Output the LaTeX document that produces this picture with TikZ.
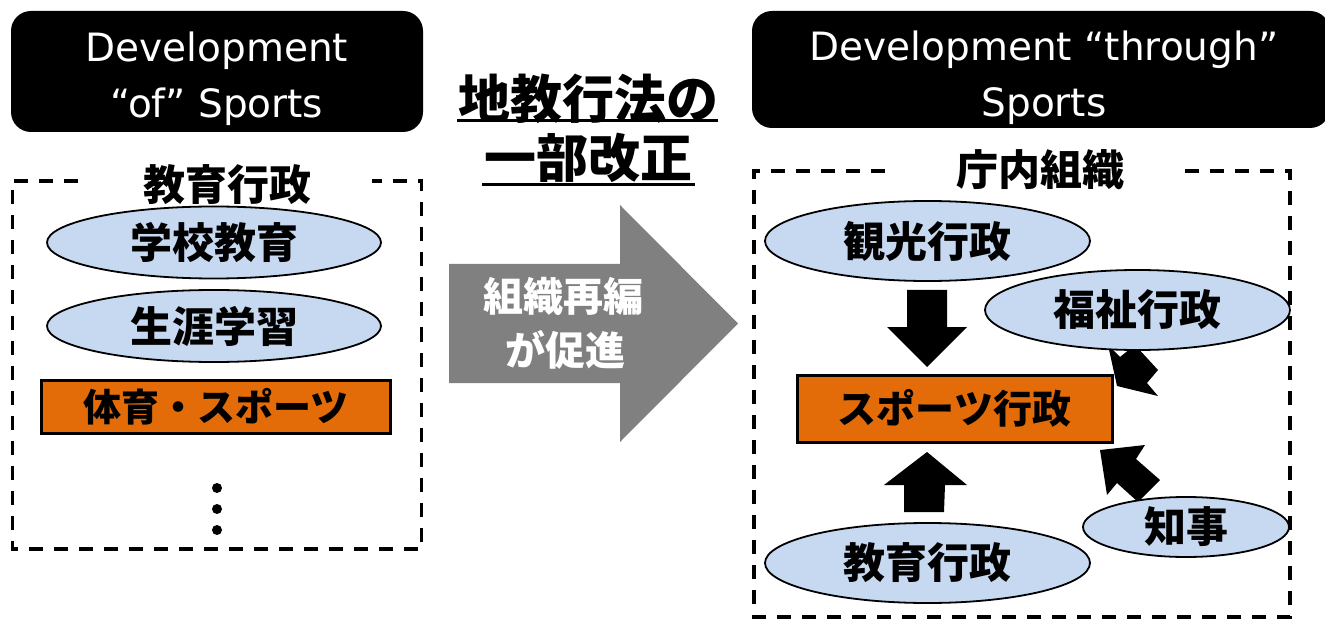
\documentclass[tikz,border=0pt]{standalone}
\usepackage{fontspec}
\setmainfont{DejaVu Sans}
\newfontfamily\jp{Noto Sans CJK JP}
\usetikzlibrary{shapes.geometric}
\definecolor{lblue}{HTML}{C6D9F1}
\definecolor{orng}{HTML}{E36C09}
\definecolor{gry}{HTML}{808080}
\begin{document}
\begin{tikzpicture}[x=1pt,y=-1pt,
  ell/.style={ellipse, draw=black, line width=1.8pt, fill=lblue, inner sep=0pt,
    font=\jp\bfseries\fontsize{42}{46}\selectfont},
  obox/.style={rectangle, draw=black, line width=3pt, fill=orng, inner sep=0pt,
    font=\jp\bfseries\fontsize{39}{44}\selectfont},
  hdr/.style={rectangle, fill=black, rounded corners=20pt, inner sep=0pt},
  htxt/.style={text=white, inner sep=0pt, font=\fontsize{39}{44}\selectfont},
  ttl/.style={inner sep=0pt, font=\jp\bfseries\fontsize{42}{46}\selectfont},
  mttl/.style={inner sep=0pt, font=\jp\bfseries\fontsize{52}{56}\selectfont},
  wtxt/.style={inner sep=0pt, text=white, font=\jp\bfseries\fontsize{40}{44}\selectfont},
  dbox/.style={line width=3.6pt, dash pattern=on 14pt off 11pt},
  blk/.style={fill=black},
]
\useasboundingbox (0,0) rectangle (1325,620);
\fill[white] (0,0) rectangle (1325,620);

% headers
\node[hdr, minimum width=412pt, minimum height=121pt] (hL) at (217,71.5) {};
\node[htxt, anchor=base] (hL1) at (217,62) {Development};
\node[htxt, anchor=base] (hL2) at (217,118) {“of” Sports};
\node[hdr, minimum width=578pt, minimum height=117pt] (hR) at (1041,69.5) {};
\node[htxt, anchor=base] (hR1) at (1044,61) {Development “through”};
\node[htxt, anchor=base] (hR2) at (1044,117) {Sports};

% left dashed box
\draw[dbox] (78,181) -- (12.5,181) -- (12.5,549) -- (421.5,549) -- (421.5,181) -- (372,181);
\node[ttl] (tL) at (227.5,185) {教育行政};
\node[ell, minimum width=334pt, minimum height=72pt] (e1) at (214,242.5) {学校教育};
\node[ell, minimum width=334pt, minimum height=72pt] (e2) at (214,326) {生涯学習};
\node[obox, minimum width=349pt, minimum height=53pt, font=\jp\bfseries\fontsize{38}{42}\selectfont] (o1) at (216,406.5) {体育・スポーツ};
\fill (217,488) circle (5pt);
\fill (217,509) circle (5pt);
\fill (217,530) circle (5pt);

% middle
\node[mttl] (m1) at (588,99) {地教行法の};
\node[mttl] (m2) at (588.5,158) {一部改正};
\draw[line width=3pt] (457,121) -- (718,121);
\draw[line width=3pt] (482,185) -- (695,185);
\fill[gry] (449,264) -- (620,264) -- (620,205) -- (738,323.5) -- (620,442) -- (620,383) -- (449,383) -- cycle;
\node[wtxt] (g1) at (563,296) {組織再編};
\node[wtxt] (g2) at (565,350) {が促進};

% right dashed box
\draw[dbox] (885,171) -- (754,171) -- (754,617) -- (1290,617) -- (1290,171) -- (1185,171);
\node[ttl] (tR) at (1040,170) {庁内組織};

% block arrows
\fill[blk] (907,290) -- (947,290) -- (947,327) -- (967,327) -- (927,367) -- (887,327) -- (907,327) -- cycle;
\fill[blk] (904,512) -- (944,512) -- (945,485) -- (967,485) -- (927,452) -- (884,485) -- (904,485) -- cycle;
\fill[blk] (1117,386) -- (1108,345) -- (1120,357) -- (1135,345) -- (1158,370) -- (1147,383) -- (1158,396) -- cycle;
\fill[blk] (1100,450) -- (1145,445) -- (1136,459) -- (1160,480) -- (1138,502) -- (1117,483) -- (1107,495) -- cycle;

\node[ell, minimum width=325pt, minimum height=80pt] (k1) at (927.5,241) {観光行政};
\node[ell, minimum width=305pt, minimum height=80pt] (k2) at (1137.5,310) {福祉行政};
\node[obox, minimum width=315pt, minimum height=67pt] (sp) at (954.5,408.5) {スポーツ行政};
\node[ell, minimum width=325pt, minimum height=80pt] (k3) at (927.5,563) {教育行政};
\node[ell, minimum width=206pt, minimum height=60pt] (k4) at (1186,527) {知事};
\end{tikzpicture}
\end{document}
